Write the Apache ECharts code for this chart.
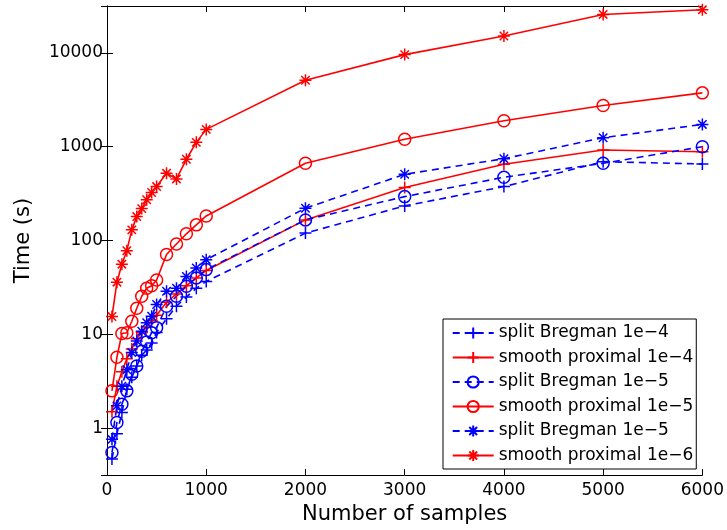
<!DOCTYPE html>
<html>
<head>
<meta charset="utf-8">
<script src="https://cdn.jsdelivr.net/npm/echarts@6/dist/echarts.min.js"></script>
<style>
html,body{margin:0;padding:0;background:#fff;}
#chart{width:727px;height:530px;}
</style>
</head>
<body>
<div id="chart"></div>
<script>
// ---- data ----
const samples = [50,100,150,200,250,300,350,400,450,500,600,700,800,900,1000,2000,3000,4000,5000,6000];
const seriesNames = ['split Bregman 1e\u22124','smooth proximal 1e\u22124','split Bregman 1e\u22125','smooth proximal 1e\u22125','split Bregman 1e\u22125 ','smooth proximal 1e\u22126'];
const splitBregman1e4   = [0.47,0.87,1.47,2.6,3.5,4.6,6.0,6.8,8.1,10.5,14.7,20,25,31,36.7,120,234,376,693,655];
const smoothProximal1e4 = [1.5,2.8,4.0,5.5,7,9,10.5,12,14,16,22,27,33,40,48,166,367,650,923,885];
const splitBregman1e5   = [0.55,1.15,1.8,2.5,3.75,4.6,6.6,8.3,10.4,11.8,19.9,25.5,32.5,40,49,166,294,473,666,1000];
const smoothProximal1e5 = [2.5,5.7,10.2,10.4,13.8,19,25.5,31,33,38,71,92,118,147,183,666,1199,1890,2754,3750];
const splitBregman1e5b  = [0.76,1.73,2.8,4.2,6.4,8.5,10.8,13.3,15.6,20.8,28.8,31,41.5,51,62.5,221,509,746,1247,1730];
const smoothProximal1e6 = [15.5,36,56,78,130,180,219,272,325,376,521,454,735,1113,1531,5115,9590,15140,25700,28800];
const xTicks = [0,1000,2000,3000,4000,5000,6000];
const yTicks = [1,10,100,1000,10000];

// ---- styling ----
const BLUE = '#0000ff', RED = '#ff0000';
const PLUS = 'path://M0,6H12M6,0V12';
const CIRC = 'path://M12,6A6,6 0 1 1 0,6A6,6 0 1 1 12,6Z';
const STAR = 'path://M0,6H12M6,0V12M1.8,1.8L10.2,10.2M1.8,10.2L10.2,1.8';
const FONT = 'DejaVu Sans';

function mk(name, vals, color, dashed, symbol) {
  return {
    name: name,
    type: 'line',
    data: samples.map((x, i) => [x, vals[i]]),
    symbol: symbol,
    symbolSize: 12,
    showSymbol: true,
    clip: false,
    lineStyle: {color: color, width: 1.6, type: dashed ? [7, 5] : 'solid'},
    itemStyle: {color: 'none', borderColor: color, borderWidth: 1.5},
    emphasis: {disabled: true},
    z: 2
  };
}

const series = [
  mk(seriesNames[0], splitBregman1e4, BLUE, true, PLUS),
  mk(seriesNames[1], smoothProximal1e4, RED, false, PLUS),
  mk(seriesNames[2], splitBregman1e5, BLUE, true, CIRC),
  mk(seriesNames[3], smoothProximal1e5, RED, false, CIRC),
  mk(seriesNames[4], splitBregman1e5b, BLUE, true, STAR),
  mk(seriesNames[5], smoothProximal1e6, RED, false, STAR)
];

const yMin = Math.pow(10, -0.5), yMax = Math.pow(10, 4.5);
function isPow10(v) {
  const l = Math.log10(v);
  return Math.abs(l - Math.round(l)) < 1e-6 && yTicks.indexOf(Math.round(Math.pow(10, Math.round(l)))) >= 0;
}

const axisLine = {show: true, lineStyle: {color: '#000', width: 1}};
const tick = {show: true, inside: true, length: 6, lineStyle: {color: '#000', width: 1}};

const option = {
  animation: false,
  backgroundColor: '#fff',
  grid: {left: 107, right: 23.5, top: 6, bottom: 54, containLabel: false},
  xAxis: [{
    type: 'value', min: xTicks[0], max: xTicks[xTicks.length - 1], interval: 1000,
    position: 'bottom',
    name: 'Number of samples', nameLocation: 'middle', nameGap: 25,
    nameTextStyle: {fontFamily: FONT, fontSize: 21, color: '#000'},
    axisLine: axisLine, axisTick: tick,
    axisLabel: {fontFamily: FONT, fontSize: 17, color: '#000', margin: 7,
      formatter: v => String(v)},
    splitLine: {show: false}
  }, {
    type: 'value', min: xTicks[0], max: xTicks[xTicks.length - 1], interval: 1000,
    position: 'top',
    axisLine: axisLine, axisTick: tick,
    axisLabel: {show: false}, splitLine: {show: false}
  }],
  yAxis: [{
    type: 'log', logBase: 10, min: yMin, max: yMax,
    position: 'left',
    name: 'Time (s)', nameLocation: 'middle', nameGap: 73,
    nameTextStyle: {fontFamily: FONT, fontSize: 21, color: '#000'},
    axisLine: axisLine, axisTick: tick,
    axisLabel: {fontFamily: FONT, fontSize: 17, color: '#000', margin: 4,
      formatter: v => isPow10(v) ? String(Math.round(v)) : ''},
    splitLine: {show: false}, minorTick: {show: false}
  }, {
    type: 'log', logBase: 10, min: yMin, max: yMax,
    position: 'right',
    axisLine: axisLine, axisTick: tick,
    axisLabel: {show: false}, splitLine: {show: false}
  }],
  legend: {
    show: true,
    orient: 'vertical',
    left: 443, top: 319,
    data: seriesNames,
    itemWidth: 41, itemHeight: 14, itemGap: 7.5,
    padding: [5.5, 3, 5, 8.7],
    borderColor: '#000', borderWidth: 1, backgroundColor: '#fff',
    selectedMode: false,
    textStyle: {fontFamily: FONT, fontSize: 17, color: '#000', lineHeight: 17}
  },
  series: series
};

const chart = echarts.init(document.getElementById('chart'), null, {renderer: 'canvas'});
chart.setOption(option);
</script>
</body>
</html>
